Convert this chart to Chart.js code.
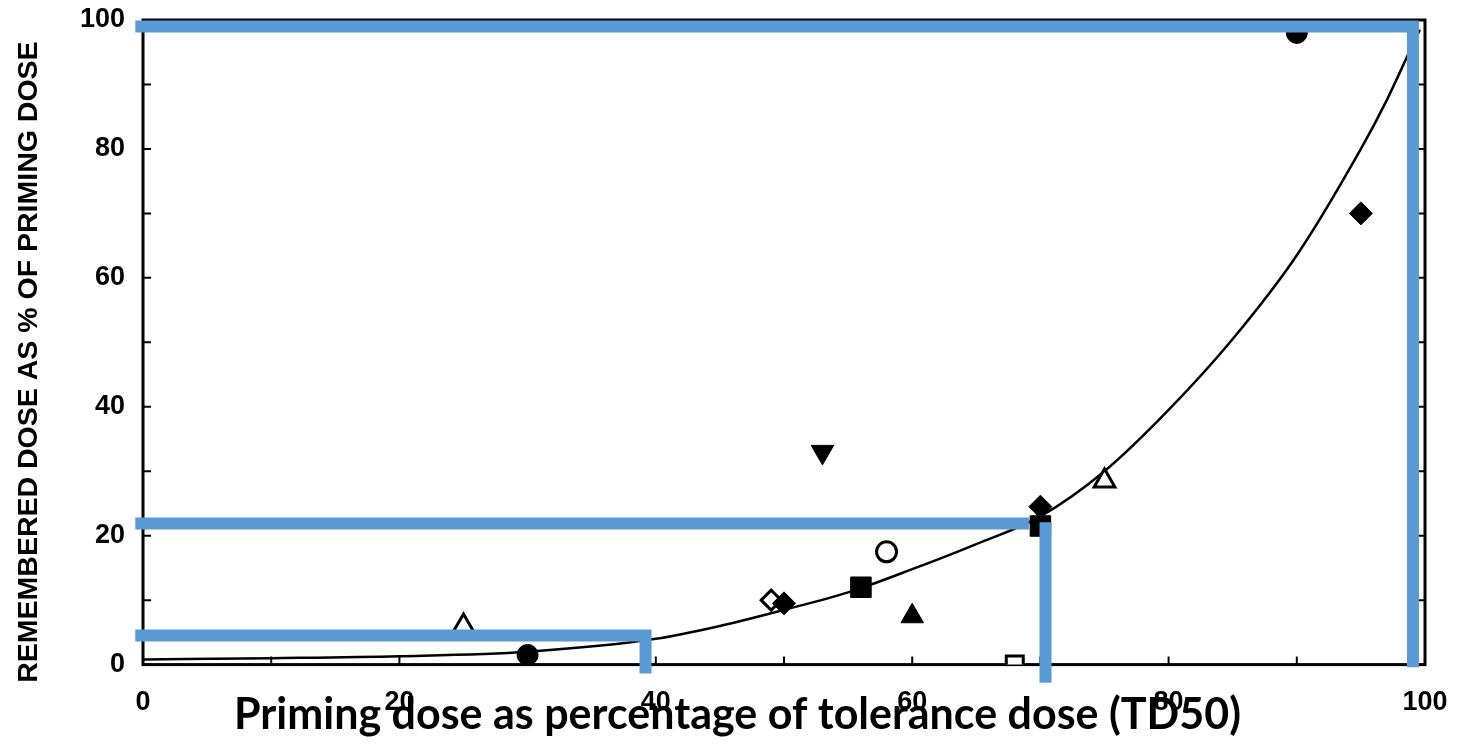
<!DOCTYPE html>
<html>
<head>
<meta charset="utf-8">
<script src="https://cdn.jsdelivr.net/npm/chart.js@4"></script>
<style>
    html, body { margin: 0; padding: 0; background: #fff; }
    #wrap { width: 1461px; height: 748px; }
</style>
</head>
<body>
<div id="wrap"><canvas id="doseChart" width="1461" height="748"></canvas></div>
<script>
// fitted curve
const curveX = [0, 10, 20, 30, 40, 45, 50, 55, 60, 65, 70, 75, 80, 85, 90, 95, 97, 99, 99.6];
const curveY = [0.8, 1.0, 1.3, 2.0, 4.0, 6.0, 8.5, 11.2, 14.8, 18.7, 23.0, 30.0, 39.5, 50.5, 63.5, 80.0, 87.5, 96.0, 98.5];

// measured points, one list per marker type
const filledCircles = [[30, 1.5], [90, 98]];
const openCircles = [[58, 17.5]];
const filledDiamonds = [[50, 9.5], [70, 24.5], [95, 70]];
const openDiamonds = [[49, 10]];
const filledSquares = [[56, 12], [70, 21.5]];
const openSquares = [[68, 0]];
const filledTriangles = [[60, 7.5]];
const openTriangles = [[25, 6], [75, 28.5]];
const filledDownTriangles = [[53, 33]];

// blue guide lines drawn over the figure
const guideTop = [[-0.6, 99], [99.06, 99], [99.06, -0.4]];
const guideMidH = [[-0.6, 21.9], [69.1, 21.9]];
const guideMidV = [[70.4, 22.1], [70.4, -2.8]];
const guideLow = [[-0.6, 4.5], [39.2, 4.5], [39.2, -1.4]];

const xTicks = [0, 20, 40, 60, 80, 100];
const yTicks = [0, 20, 40, 60, 80, 100];
const minorStep = 10;

const toPts = (arr) => arr.map(([x, y]) => ({ x: x, y: y }));

function markers(data, style, filled, radius, rotation) {
    return {
        type: "scatter",
        data: toPts(data),
        pointStyle: style,
        pointRadius: radius,
        pointRotation: rotation || 0,
        pointBackgroundColor: filled ? "#000" : "#fff",
        pointBorderColor: "#000",
        pointBorderWidth: filled ? 1 : 3,
        showLine: false,
        order: 1,
    };
}

function guide(data) {
    return {
        type: "line",
        data: toPts(data),
        borderColor: "#5b9bd5",
        borderWidth: 12,
        borderCapStyle: "butt",
        borderJoinStyle: "miter",
        pointRadius: 0,
        tension: 0,
        clip: false,
        order: 0,
    };
}

// box around the plot with small inward ticks on every side
const frameTicks = {
    id: "frameTicks",
    beforeDatasetsDraw(chart) {
        const { ctx, chartArea: a, scales } = chart;
        ctx.save();
        ctx.strokeStyle = "#000";
        ctx.lineWidth = 3;
        ctx.strokeRect(a.left, a.top, a.right - a.left, a.bottom - a.top);
        ctx.lineWidth = 2;
        ctx.beginPath();
        for (let v = 0; v <= 100; v += minorStep) {
            const px = scales.x.getPixelForValue(v);
            const py = scales.y.getPixelForValue(v);
            ctx.moveTo(px, a.bottom); ctx.lineTo(px, a.bottom - 8);
            ctx.moveTo(px, a.top); ctx.lineTo(px, a.top + 8);
            ctx.moveTo(a.left, py); ctx.lineTo(a.left + 8, py);
            ctx.moveTo(a.right, py); ctx.lineTo(a.right - 8, py);
        }
        ctx.stroke();
        ctx.restore();
    },
};

const ctx = document.getElementById("doseChart");

new Chart(ctx, {
    type: "scatter",
    data: {
        datasets: [
            guide(guideTop),
            guide(guideMidH),
            guide(guideMidV),
            guide(guideLow),
            {
                type: "line",
                data: curveX.map((x, i) => ({ x: x, y: curveY[i] })),
                borderColor: "#000",
                borderWidth: 2.5,
                pointRadius: 0,
                cubicInterpolationMode: "monotone",
                order: 2,
            },
            markers(filledCircles, "circle", true, 10.5),
            markers(openCircles, "circle", false, 10),
            markers(filledDiamonds, "rectRot", true, 11.5),
            markers(openDiamonds, "rectRot", false, 10),
            markers(filledSquares, "rect", true, 14.5),
            markers(openSquares, "rect", false, 12),
            markers(filledTriangles, "triangle", true, 13),
            markers(openTriangles, "triangle", false, 12),
            markers(filledDownTriangles, "triangle", true, 13, 180),
        ],
    },
    options: {
        responsive: false,
        animation: false,
        events: [],
        layout: {
            padding: { top: 20, right: 36, bottom: 0, left: 50 },
        },
        plugins: {
            legend: { display: false },
            tooltip: { enabled: false },
            title: {
                display: true,
                position: "bottom",
                text: "Priming dose as percentage of tolerance dose (TD50)",
                color: "#000",
                font: { family: "Lato", size: 43, weight: "bold" },
                padding: { top: -35.5, bottom: 7.3 },
            },
        },
        scales: {
            x: {
                type: "linear",
                min: 0,
                max: 100,
                grid: { display: false, drawTicks: false },
                border: { display: false },
                afterBuildTicks: (scale) => {
                    scale.ticks = xTicks.map((v) => ({ value: v }));
                },
                afterFit: (scale) => {
                    scale.height = 60;
                    scale.paddingLeft = 0;
                    scale.paddingRight = 0;
                },
                ticks: {
                    color: "#000",
                    padding: 22,
                    maxRotation: 0,
                    font: { family: "Liberation Sans", size: 27, weight: "bold" },
                },
            },
            y: {
                type: "linear",
                min: 0,
                max: 100,
                grid: { display: false, drawTicks: false },
                border: { display: false },
                afterBuildTicks: (scale) => {
                    scale.ticks = yTicks.map((v) => ({ value: v }));
                },
                afterFit: (scale) => {
                    scale.width = 93;
                    scale.paddingTop = 0;
                    scale.paddingBottom = 0;
                },
                ticks: {
                    color: "#000",
                    padding: 18,
                    font: { family: "Liberation Sans", size: 27, weight: "bold" },
                },
                title: {
                    display: true,
                    // trailing spaces push the text a little down the axis, as in the original
                    text: "REMEMBERED DOSE AS % OF PRIMING DOSE\u00a0\u00a0\u00a0\u00a0\u00a0",
                    color: "#000",
                    font: { family: "Liberation Sans", size: 28.5, weight: "bold", lineHeight: 1 },
                    padding: { top: -35, bottom: 0 },
                },
            },
        },
    },
    plugins: [frameTicks],
});
</script>
</body>
</html>
